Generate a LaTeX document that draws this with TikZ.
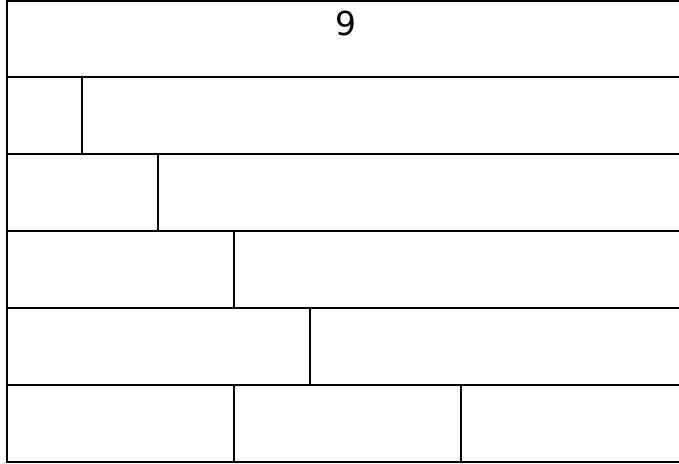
\documentclass[tikz,border=0pt]{standalone}
\usepackage{fontspec}
\setmainfont{DejaVu Sans}
\begin{document}
\begin{tikzpicture}[x=1pt,y=-1pt,
  cell/.style={draw=black,line width=2pt},
  lbl/.style={font=\fontsize{33}{40}\selectfont,anchor=base,inner sep=0pt}]
\useasboundingbox (0,0) rectangle (679,463);
\clip (0,0) rectangle (679,463);
% row 1
\draw[cell] (6.5,1) rectangle (700,77);
% row 2
\draw[cell] (6.5,77) rectangle (82,154);
\draw[cell] (82,77) rectangle (700,154);
% row 3
\draw[cell] (6.5,154) rectangle (158,231);
\draw[cell] (158,154) rectangle (700,231);
% row 4
\draw[cell] (6.5,231) rectangle (234,308);
\draw[cell] (234,231) rectangle (700,308);
% row 5
\draw[cell] (6.5,308) rectangle (310,385);
\draw[cell] (310,308) rectangle (700,385);
% row 6
\draw[cell] (6.5,385) rectangle (234,462);
\draw[cell] (234,385) rectangle (461,462);
\draw[cell] (461,385) rectangle (700,462);
\node[lbl] (nine) at (346,35) {9};
\end{tikzpicture}
\end{document}
